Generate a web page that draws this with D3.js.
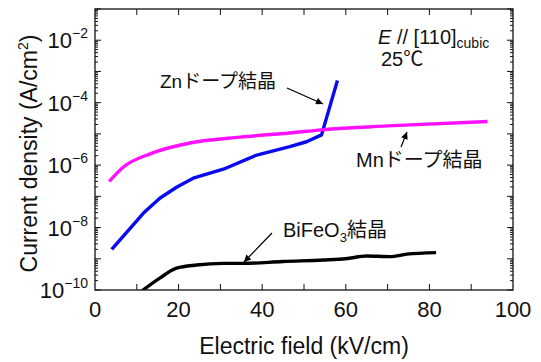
<!DOCTYPE html>
<html>
<head>
<meta charset="utf-8">
<script src="https://cdn.jsdelivr.net/npm/d3@7"></script>
<style>
  body { margin: 0; background: #fff; }
  svg text { font-family: "Liberation Sans", Arial, "Noto Sans CJK JP", sans-serif; fill: #111; }
  .jp { font-family: "Liberation Sans", "Noto Sans CJK JP", sans-serif; }
</style>
</head>
<body>
<div id="chart"></div>
<script>
// Mn-doped crystal
const mnX = [3.4, 6.8, 13.2, 22.7, 34.7, 46.6, 54.2, 70, 93.9]
const mnY = [3e-7, 8.7e-7, 2.3e-6, 5.1e-6, 7.9e-6, 1.07e-5, 1.35e-5, 1.8e-5, 2.5e-5]

// Zn-doped crystal
const znX = [4.0, 11.6, 15.5, 19.5, 23.5, 30.7, 38.7, 46.6, 50.6, 54.2, 58.0]
const znY = [2e-9, 2.9e-8, 8.7e-8, 1.95e-7, 3.8e-7, 7.4e-7, 2.1e-6, 3.9e-6, 5.6e-6, 9.3e-6, 5.1e-4]

// BiFeO3 crystal
const bfX = [10.0, 15.5, 19.5, 24.3, 30.7, 35.5, 45, 54.6, 60, 65, 70.6, 74.6, 81.6]
const bfY = [7e-11, 2.4e-10, 5e-10, 6.3e-10, 7.1e-10, 7.1e-10, 8.2e-10, 9.1e-10, 1.0e-9, 1.23e-9, 1.17e-9, 1.41e-9, 1.58e-9]

const xTickLabels = [0, 20, 40, 60, 80, 100]
const yTickExps = [-10, -8, -6, -4, -2]

const margin = {top: 9, right: 28, bottom: 72, left: 95}
const W = 541, H = 362
const width = W - margin.left - margin.right
const height = H - margin.top - margin.bottom

const svg = d3.select('#chart').append('svg')
  .attr('width', W).attr('height', H)

const g = svg.append('g')
  .attr('transform', 'translate(' + margin.left + ',' + margin.top + ')')

const x = d3.scaleLinear().domain([0, 100]).range([0, width])
const y = d3.scaleLog().domain([1e-10, 1e-1]).range([height, 0])

// minor + major ticks
const minorY = []
for (let e = -10; e < -1; e++) {
  for (let m = 1; m < 10; m++) minorY.push(m * Math.pow(10, e))
}
minorY.push(1e-1)

const axes = g.append('g').attr('stroke', '#111').attr('stroke-width', 1)
minorY.forEach(v => {
  const len = Math.abs(Math.log10(v) - Math.round(Math.log10(v))) < 1e-6 ? 6 : 3
  axes.append('line').attr('x1', 0).attr('x2', len).attr('y1', y(v)).attr('y2', y(v))
  axes.append('line').attr('x1', width).attr('x2', width - len).attr('y1', y(v)).attr('y2', y(v))
})
d3.range(10, 100, 10).forEach(v => {
  axes.append('line').attr('x1', x(v)).attr('x2', x(v)).attr('y1', height).attr('y2', height - 6)
  axes.append('line').attr('x1', x(v)).attr('x2', x(v)).attr('y1', 0).attr('y2', 6)
})

// clip
g.append('clipPath').attr('id', 'clip')
  .append('rect').attr('width', width).attr('height', height)

const line = d3.line()
  .x(d => x(d[0]))
  .y(d => y(d[1]))
  .curve(d3.curveMonotoneX)
const lineStraight = d3.line()
  .x(d => x(d[0]))
  .y(d => y(d[1]))

const plot = g.append('g').attr('clip-path', 'url(#clip)')

plot.append('path')
  .datum(bfX.map((v, i) => [v, bfY[i]]))
  .attr('fill', 'none').attr('stroke', '#000').attr('stroke-width', 3.4)
  .attr('stroke-linejoin', 'round')
  .attr('d', line)

plot.append('path')
  .datum(znX.map((v, i) => [v, znY[i]]))
  .attr('fill', 'none').attr('stroke', '#0a0af0').attr('stroke-width', 3.4)
  .attr('stroke-linejoin', 'round')
  .attr('d', lineStraight)

plot.append('path')
  .datum(mnX.map((v, i) => [v, mnY[i]]))
  .attr('fill', 'none').attr('stroke', '#ff10ff').attr('stroke-width', 3.4)
  .attr('stroke-linejoin', 'round')
  .attr('d', line)

// frame
g.append('rect').attr('width', width).attr('height', height)
  .attr('fill', 'none').attr('stroke', '#111').attr('stroke-width', 1.3)

// x tick labels
g.selectAll('.xl').data(xTickLabels).enter().append('text')
  .attr('x', d => x(d)).attr('y', height + 27)
  .attr('text-anchor', 'middle').attr('font-size', 22)
  .text(d => d)

// y tick labels
yTickExps.forEach(e => {
  const t = g.append('text')
    .attr('x', -7).attr('y', y(Math.pow(10, e)) + 8)
    .attr('text-anchor', 'end').attr('font-size', 22)
  t.append('tspan').text('10')
  t.append('tspan').attr('dy', -10).attr('font-size', 14).text('\u2212' + Math.abs(e))
})

// axis titles
svg.append('text')
  .attr('x', 304).attr('y', 354)
  .attr('text-anchor', 'middle').attr('font-size', 23)
  .text('Electric field (kV/cm)')

const yt = svg.append('text')
  .attr('transform', 'translate(37,' + (margin.top + height / 2 + 4) + ') rotate(-90)')
  .attr('text-anchor', 'middle').attr('font-size', 23)
yt.append('tspan').text('Current density (A/cm')
yt.append('tspan').attr('dy', -9).attr('font-size', 14).text('2')
yt.append('tspan').attr('dy', 9).text(')')

// annotations
svg.append('defs').append('marker')
  .attr('id', 'arr').attr('viewBox', '0 0 10 10')
  .attr('refX', 10).attr('refY', 5)
  .attr('markerWidth', 9).attr('markerHeight', 7)
  .attr('markerUnits', 'userSpaceOnUse')
  .attr('orient', 'auto')
  .append('path').attr('d', 'M0,0 L10,5 L0,10 Z').attr('fill', '#000')

const ann = svg.append('g').attr('stroke', '#000').attr('stroke-width', 1.2)
ann.append('line').attr('x1', 287).attr('y1', 88).attr('x2', 323).attr('y2', 104).attr('marker-end', 'url(#arr)')
ann.append('line').attr('x1', 401).attr('y1', 147).attr('x2', 407).attr('y2', 132).attr('marker-end', 'url(#arr)')
ann.append('line').attr('x1', 272).attr('y1', 233).attr('x2', 244).attr('y2', 262).attr('marker-end', 'url(#arr)')

svg.append('text').attr('class', 'jp').attr('x', 160).attr('y', 88).attr('font-size', 19)
  .text('Znドープ結晶')
svg.append('text').attr('class', 'jp').attr('x', 356).attr('y', 167).attr('font-size', 20)
  .text('Mnドープ結晶')
const bt = svg.append('text').attr('class', 'jp').attr('x', 283).attr('y', 237).attr('font-size', 20)
bt.append('tspan').text('BiFeO')
bt.append('tspan').attr('dy', 5).attr('font-size', 13).text('3')
bt.append('tspan').attr('dy', -5).text('結晶')

const et = svg.append('text').attr('x', 378).attr('y', 44).attr('font-size', 20)
et.append('tspan').attr('font-style', 'italic').text('E')
et.append('tspan').text(' // [110]')
et.append('tspan').attr('dy', 4).attr('font-size', 14).text('cubic')
svg.append('text').attr('x', 381).attr('y', 66).attr('font-size', 20).text('25℃')
</script>
</body>
</html>
